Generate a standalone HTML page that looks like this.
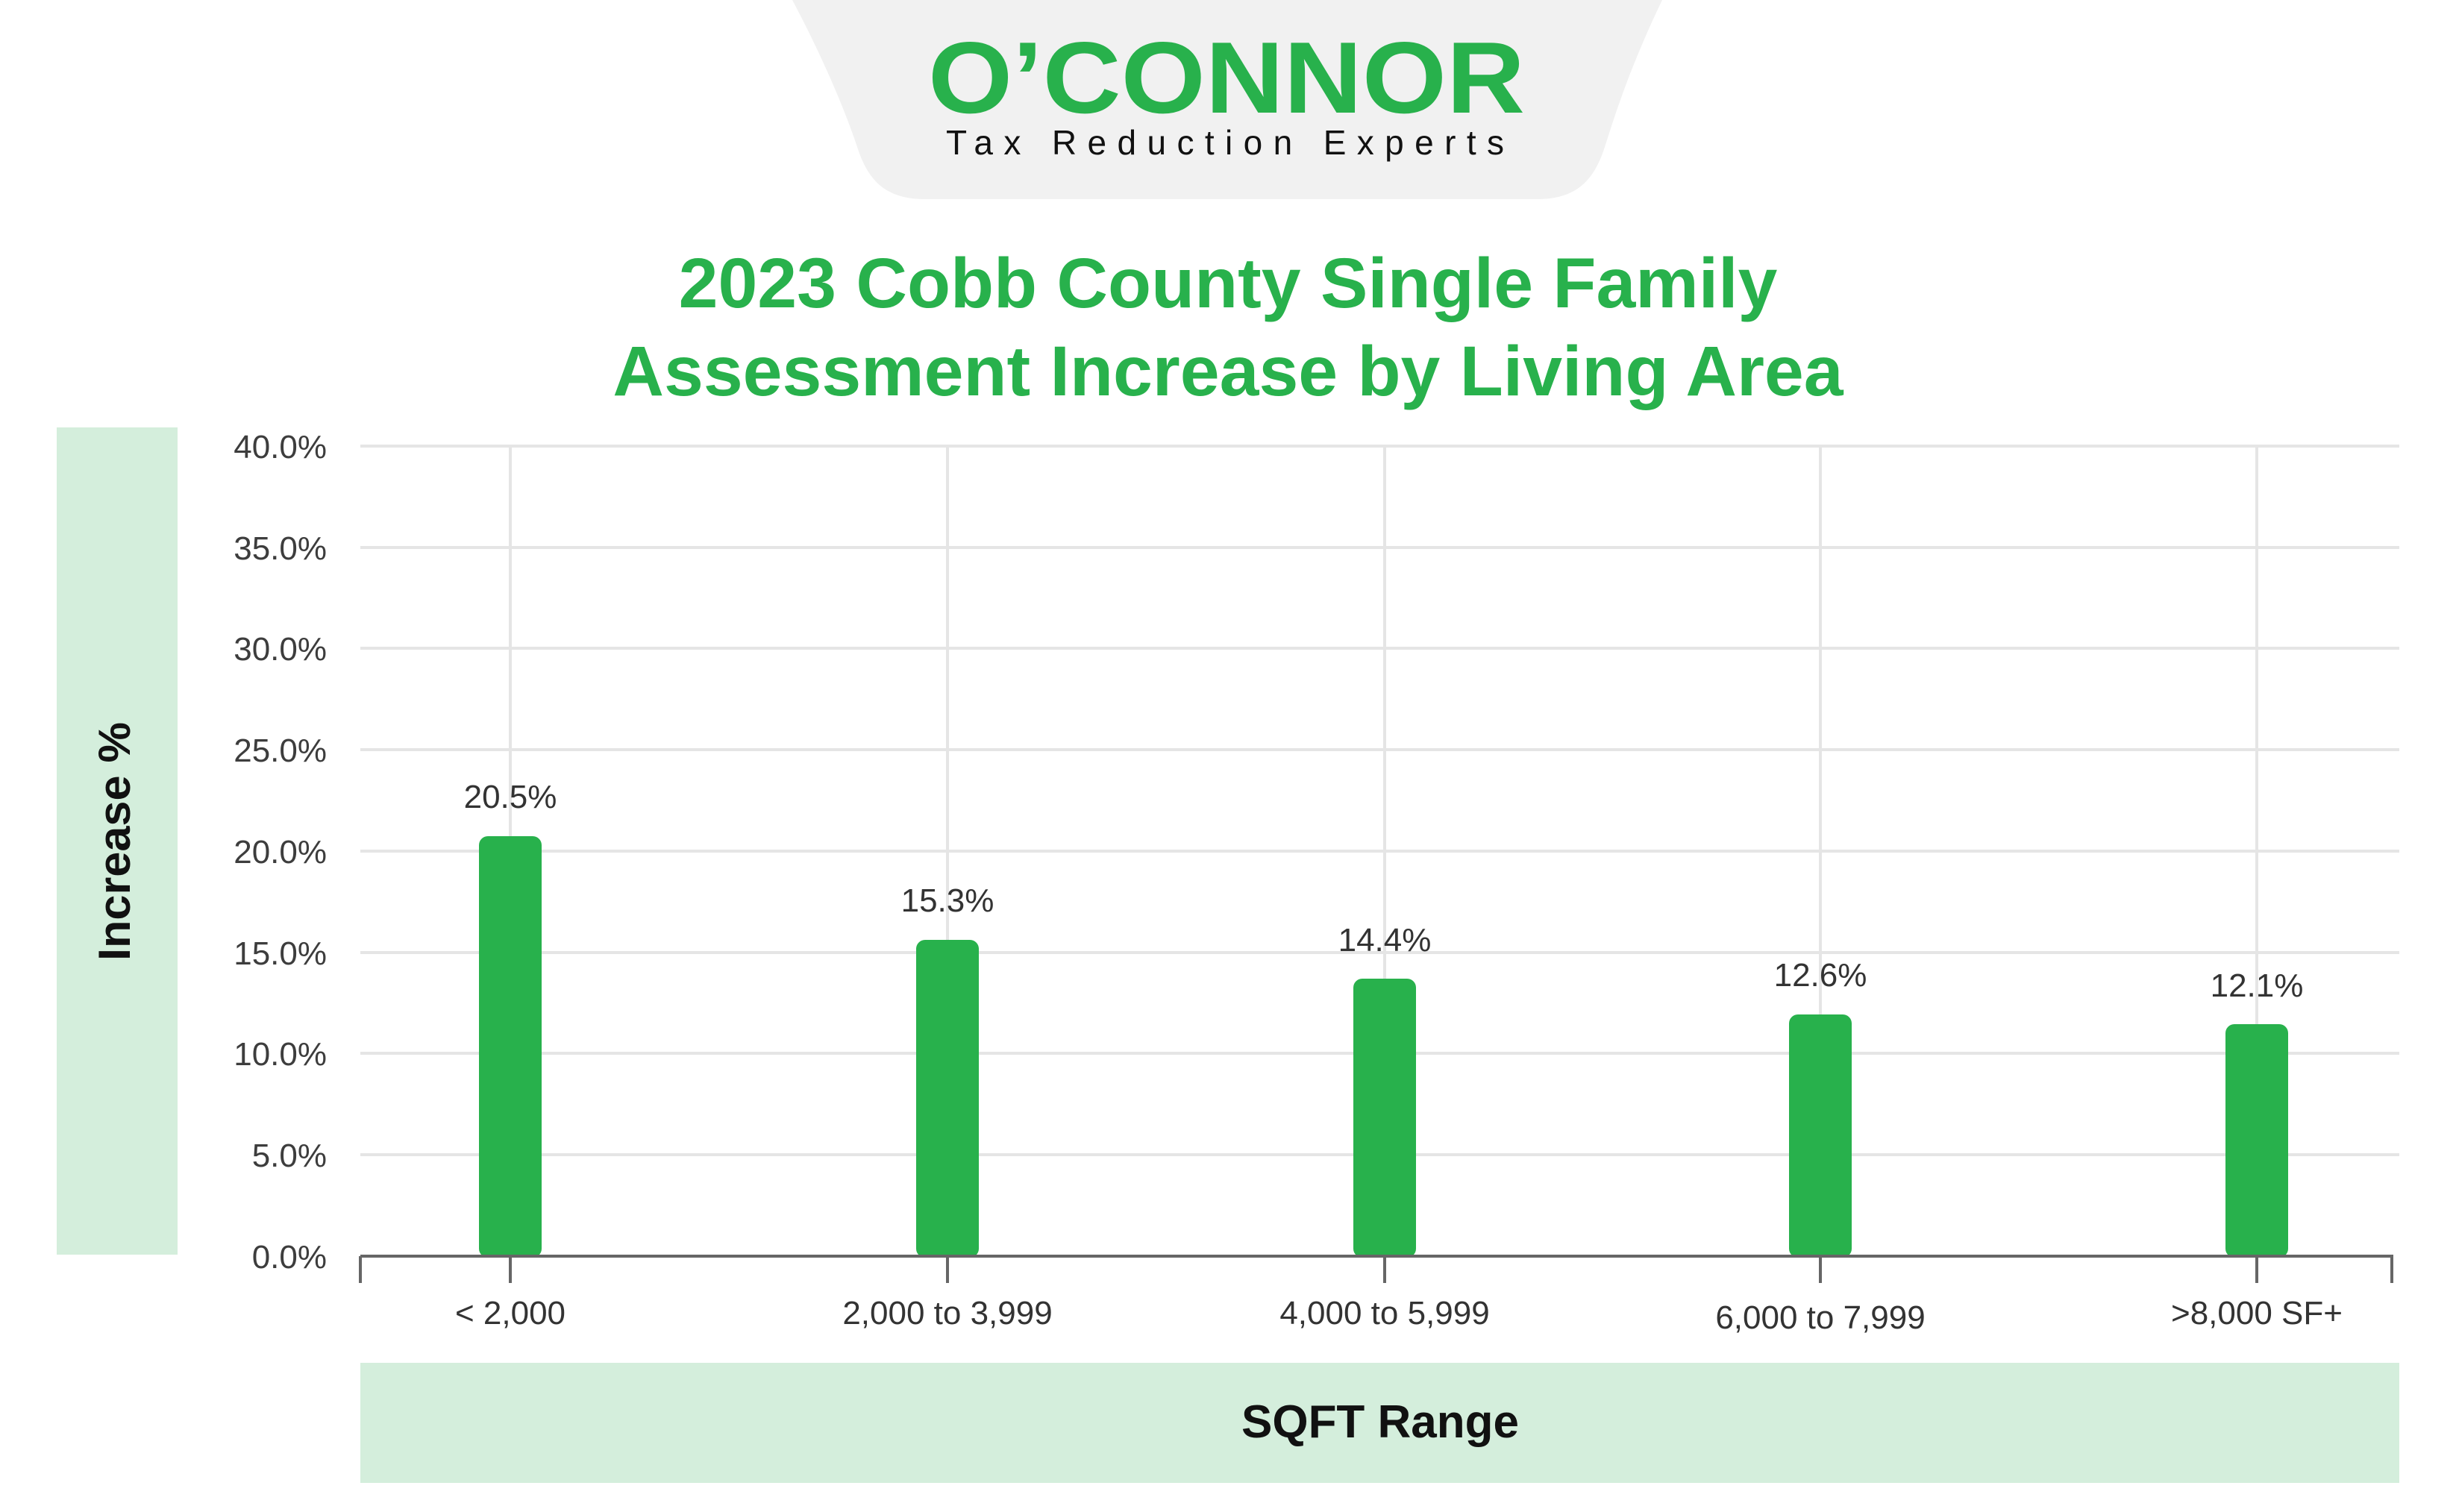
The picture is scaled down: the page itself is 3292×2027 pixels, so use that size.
<!DOCTYPE html>
<html><head><meta charset="utf-8"><style>
html,body{margin:0;padding:0;background:#fff}
svg{display:block}
</style></head><body>
<svg width="3292" height="2027" viewBox="0 0 3292 2027" xmlns="http://www.w3.org/2000/svg" font-family="'Liberation Sans', sans-serif">
<rect width="3292" height="2027" fill="#fff"/>
<path d="M1062 0 L2228 0 C2180 100 2160 170 2150 200 C2135 245 2110 267 2060 267 L1240 267 C1190 267 1165 245 1150 200 C1140 170 1115 100 1062 0 Z" fill="#f1f1f1"/>
<text x="1644" y="151" text-anchor="middle" font-size="136" font-weight="bold" fill="#28b14c" textLength="800" lengthAdjust="spacingAndGlyphs">O’CONNOR</text>
<text x="1648" y="207" text-anchor="middle" font-size="46" fill="#111" letter-spacing="12" textLength="760" lengthAdjust="spacing">Tax Reduction Experts</text>
<text x="1646" y="412" text-anchor="middle" font-size="95" font-weight="bold" fill="#28b14c">2023 Cobb County Single Family</text>
<text x="1646" y="530" text-anchor="middle" font-size="95" font-weight="bold" fill="#28b14c">Assessment Increase by Living Area</text>
<rect x="76" y="573" width="162" height="1109" fill="#d4eedc"/>
<text transform="translate(174,1128) rotate(-90)" text-anchor="middle" font-size="60" font-weight="bold" fill="#111" textLength="320" lengthAdjust="spacingAndGlyphs">Increase %</text>
<g stroke="#e5e5e5" stroke-width="4">
<line x1="483" y1="598" x2="3216" y2="598"/><line x1="483" y1="734" x2="3216" y2="734"/>
<line x1="483" y1="869" x2="3216" y2="869"/><line x1="483" y1="1005" x2="3216" y2="1005"/>
<line x1="483" y1="1141" x2="3216" y2="1141"/><line x1="483" y1="1277" x2="3216" y2="1277"/>
<line x1="483" y1="1412" x2="3216" y2="1412"/><line x1="483" y1="1548" x2="3216" y2="1548"/>
<line x1="684" y1="598" x2="684" y2="1684"/><line x1="1270" y1="598" x2="1270" y2="1684"/>
<line x1="1856" y1="598" x2="1856" y2="1684"/><line x1="2440" y1="598" x2="2440" y2="1684"/>
<line x1="3025" y1="598" x2="3025" y2="1684"/>
</g>
<g font-size="44" fill="#3d3d3d" text-anchor="end">
<text x="438" y="614">40.0%</text><text x="438" y="750">35.0%</text><text x="438" y="885">30.0%</text>
<text x="438" y="1021">25.0%</text><text x="438" y="1157">20.0%</text><text x="438" y="1293">15.0%</text>
<text x="438" y="1428">10.0%</text><text x="438" y="1564">5.0%</text><text x="438" y="1700">0.0%</text>
</g>
<g fill="#28b14c">
<rect x="642" y="1121" width="84" height="565" rx="12"/>
<rect x="1228" y="1260" width="84" height="426" rx="12"/>
<rect x="1814" y="1312" width="84" height="374" rx="12"/>
<rect x="2398" y="1360" width="84" height="326" rx="12"/>
<rect x="2983" y="1373" width="84" height="313" rx="12"/>
</g>
<g stroke="#666" stroke-width="4" fill="none">
<line x1="483" y1="1684" x2="3208" y2="1684"/>
<line x1="483" y1="1684" x2="483" y2="1720"/><line x1="684" y1="1684" x2="684" y2="1720"/>
<line x1="1270" y1="1684" x2="1270" y2="1720"/><line x1="1856" y1="1684" x2="1856" y2="1720"/>
<line x1="2440" y1="1684" x2="2440" y2="1720"/><line x1="3025" y1="1684" x2="3025" y2="1720"/>
<line x1="3206" y1="1684" x2="3206" y2="1720"/>
</g>
<g font-size="44" fill="#333" text-anchor="middle">
<text x="684" y="1083">20.5%</text><text x="1270" y="1222">15.3%</text><text x="1856" y="1275">14.4%</text>
<text x="2440" y="1322">12.6%</text><text x="3025" y="1336">12.1%</text>
<text x="684" y="1775">&lt; 2,000</text><text x="1270" y="1775">2,000 to 3,999</text><text x="1856" y="1775">4,000 to 5,999</text>
<text x="2440" y="1781">6,000 to 7,999</text><text x="3025" y="1775">&gt;8,000 SF+</text>
</g>
<rect x="483" y="1827" width="2733" height="161" fill="#d4eedc"/>
<text x="1850" y="1927" text-anchor="middle" font-size="62" font-weight="bold" fill="#111">SQFT Range</text>
</svg>
</body></html>
